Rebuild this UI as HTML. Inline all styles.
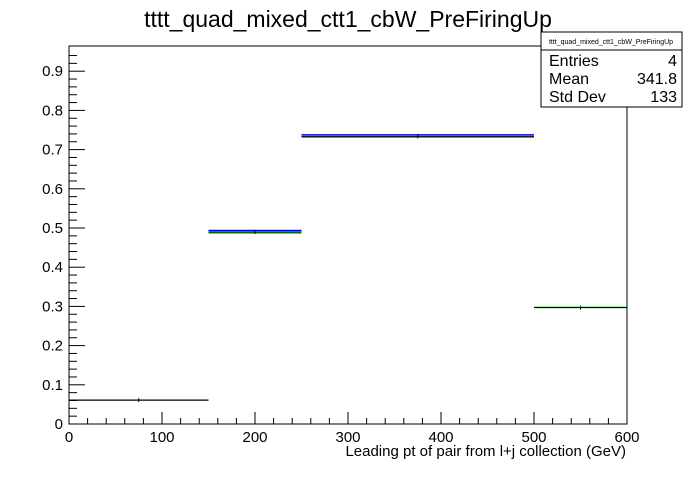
<!DOCTYPE html>
<html><head><meta charset="utf-8"><style>
body{margin:0;background:#fff;width:696px;height:472px;overflow:hidden;font-family:"Liberation Sans",sans-serif}
</style></head><body>
<svg width="696" height="472" font-family="Liberation Sans, sans-serif">
<text x="348" y="27" text-anchor="middle" font-size="23">tttt_quad_mixed_ctt1_cbW_PreFiringUp</text>
<rect x="69" y="46" width="558" height="378" fill="none" stroke="#000" stroke-width="1"/>
<g id="axes"></g>
<g id="bars"></g>
<text x="626" y="456" text-anchor="end" font-size="15">Leading pt of pair from l+j collection (GeV)</text>
<g>
<rect x="541" y="32" width="141" height="75" fill="#fff" stroke="#000"/>
<line x1="541" y1="50" x2="682" y2="50" stroke="#000"/>
<text x="611" y="44" text-anchor="middle" font-size="7">tttt_quad_mixed_ctt1_cbW_PreFiringUp</text>
<text x="549" y="66" font-size="16">Entries</text><text x="677" y="66" text-anchor="end" font-size="16">4</text>
<text x="549" y="84" font-size="16">Mean</text><text x="677" y="84" text-anchor="end" font-size="16">341.8</text>
<text x="549" y="102" font-size="16">Std Dev</text><text x="677" y="102" text-anchor="end" font-size="16">133</text>
</g>
</svg>
<script>
const binEdges=[0,150,250,500,600];
const valuesBlack=[0.061,0.490,0.734,0.297];
const valuesBlue=[null,0.494,0.738,null];
const valuesGreen=[null,0.487,0.731,0.298];
const xTicks=[0,100,200,300,400,500,600];
const yTicks=[0,0.1,0.2,0.3,0.4,0.5,0.6,0.7,0.8,0.9];
const NS="http://www.w3.org/2000/svg";
const X0=69,X1=627,Y0=424,YT=46,xmin=0,xmax=600,ymax=0.9643;
const xs=v=>X0+(v-xmin)/(xmax-xmin)*(X1-X0);
const ys=v=>Y0-v/ymax*(Y0-YT);
function mk(t,a,p){const e=document.createElementNS(NS,t);for(const k in a)e.setAttribute(k,a[k]);p.appendChild(e);return e;}
const ax=document.getElementById('axes');
for(let v=0;v<=600.001;v+=20){const maj=Math.abs(v/100-Math.round(v/100))<1e-6;
 const l=mk('line',{x1:xs(v),x2:xs(v),y1:Y0,y2:Y0-(maj?12:6),stroke:'#000'},ax);
 }
xTicks.forEach(v=>{const t=mk('text',{x:xs(v),y:Y0+18,'text-anchor':'middle','font-size':15},ax);t.textContent=v;
 });
for(let v=0;v<=0.96;v+=0.02){const maj=Math.abs(v*10-Math.round(v*10))<1e-6;
 const l=mk('line',{x1:X0,x2:X0+(maj?16:8),y1:ys(v),y2:ys(v),stroke:'#000'},ax);
 }
yTicks.forEach(v=>{const t=mk('text',{x:X0-6,y:ys(v)+5,'text-anchor':'end','font-size':15},ax);t.textContent=+v.toFixed(1);
 });
const bg=document.getElementById('bars');
function series(vals,col,name){vals.forEach((v,i)=>{if(v==null)return;
 const l=mk('line',{x1:xs(binEdges[i]),x2:xs(binEdges[i+1]),y1:ys(v),y2:ys(v),stroke:col,'stroke-width':1.2},bg);
 });}
series(valuesBlue,'#0000ee','blue');
series(valuesGreen,'#00dd00','green');
series(valuesBlack,'#000','black');
valuesBlack.forEach((v,i)=>{const c=(binEdges[i]+binEdges[i+1])/2;
 const l=mk('line',{x1:xs(c),x2:xs(c),y1:ys(v)-2,y2:ys(v)+2,stroke:'#000'},bg);
 });
</script>
</body></html>
